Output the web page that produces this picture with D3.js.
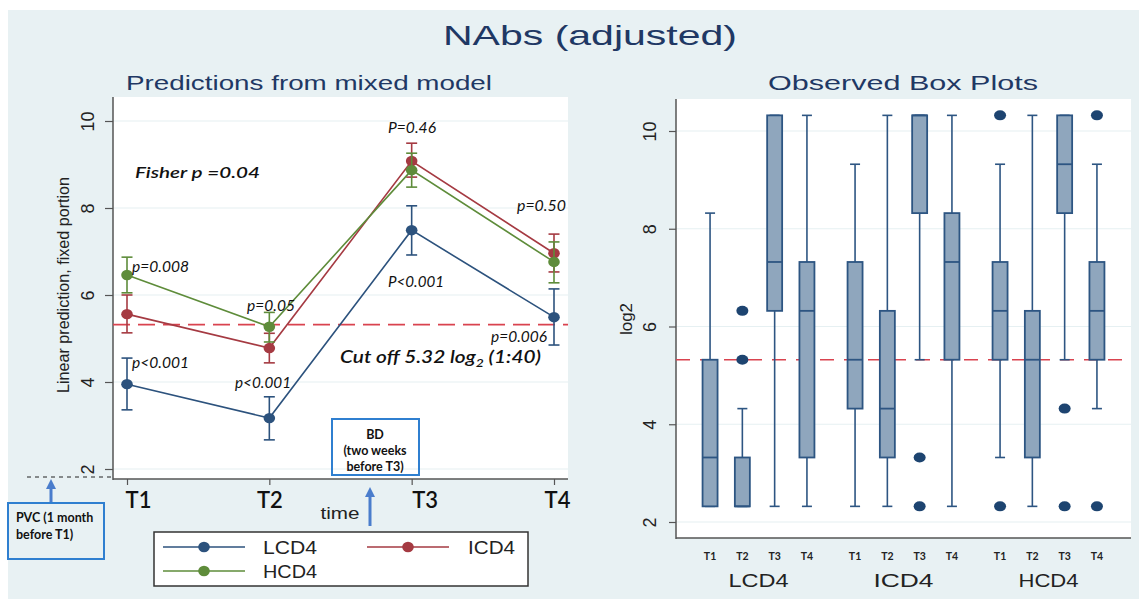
<!doctype html>
<html>
<head>
<script src="https://cdnjs.cloudflare.com/ajax/libs/d3/7.8.5/d3.min.js"></script>
<style>
  body { margin: 0; background: #fff; }
  svg { display: block; }
  .sans { font-family: "Liberation Sans", Arial, sans-serif; }
  .cal { font-family: Lato, "Open Sans", sans-serif; }
</style>
</head>
<body>
<svg id="chart" width="1139" height="599"></svg>
<script>
// ---- data ----
var times = ["T1", "T2", "T3", "T4"];
var groups = ["LCD4", "ICD4", "HCD4"];
var yTicks = [2, 4, 6, 8, 10];
var cutoff = 5.32;

// predictions from mixed model (mean, lower CI, upper CI)
var lcd4Mean = [3.95, 3.17, 7.49, 5.49];
var lcd4Lo = [3.36, 2.67, 6.92, 4.85];
var lcd4Hi = [4.55, 3.66, 8.05, 6.14];
var icd4Mean = [5.56, 4.78, 9.08, 6.96];
var icd4Lo = [5.13, 4.44, 8.71, 6.53];
var icd4Hi = [6.00, 5.12, 9.49, 7.40];
var hcd4Mean = [6.46, 5.27, 8.87, 6.76];
var hcd4Lo = [6.05, 4.92, 8.48, 6.28];
var hcd4Hi = [6.87, 5.60, 9.26, 7.22];

// observed boxes: [lower whisker, q1, median, q3, upper whisker]
var lcd4Box = [[2.32, 2.32, 3.32, 5.32, 8.32], [2.32, 2.32, 2.32, 3.32, 4.32], [2.32, 6.32, 7.32, 10.32, 10.32], [2.32, 3.32, 6.32, 7.32, 10.32]];
var icd4Box = [[2.32, 4.32, 5.32, 7.32, 9.32], [2.32, 3.32, 4.32, 6.32, 10.32], [5.32, 8.32, 10.32, 10.32, 10.32], [2.32, 5.32, 7.32, 8.32, 10.32]];
var hcd4Box = [[3.32, 5.32, 6.32, 7.32, 9.32], [2.32, 3.32, 5.32, 6.32, 10.32], [5.32, 8.32, 9.32, 10.32, 10.32], [4.32, 5.32, 6.32, 7.32, 9.32]];
var lcd4Out = [[], [5.32, 6.32], [], []];
var icd4Out = [[], [], [3.32, 2.32], []];
var hcd4Out = [[10.32, 2.32], [], [4.32, 2.32], [10.32, 2.32]];

var svg = d3.select("#chart");
var navy = "#1f3864";

// background
svg.append("rect").attr("x", 8).attr("y", 10).attr("width", 1131).attr("height", 589).attr("fill", "#e8f1f3");

svg.append("text").attr("class", "sans").attr("x", 590).attr("y", 45)
  .attr("text-anchor", "middle").attr("font-size", 28).attr("fill", navy)
  .attr("textLength", 294).attr("lengthAdjust", "spacingAndGlyphs")
  .text("NAbs (adjusted)");

// ================= left panel =================
var L = { left: 113, right: 568, top: 97, bottom: 479 };
var xL = d3.scalePoint().domain(times).range([127, 554]);
var yL = d3.scaleLinear().domain([2, 10]).range([469, 121]);

var gL = svg.append("g");
gL.append("rect").attr("x", L.left).attr("y", L.top).attr("width", L.right - L.left).attr("height", L.bottom - L.top).attr("fill", "#fff");
gL.selectAll(".grid").data(yTicks).enter().append("line")
  .attr("x1", L.left).attr("x2", L.right).attr("y1", d => yL(d)).attr("y2", d => yL(d))
  .attr("stroke", "#e6f0f2").attr("stroke-width", 1.2);

svg.append("text").attr("class", "sans").attr("x", 309).attr("y", 90)
  .attr("text-anchor", "middle").attr("font-size", 21).attr("fill", navy)
  .attr("textLength", 366).attr("lengthAdjust", "spacingAndGlyphs")
  .text("Predictions from mixed model");

// y axis
var axL = gL.append("g").attr("transform", "translate(" + L.left + ",0)")
  .call(d3.axisLeft(yL).tickValues(yTicks).tickSize(8).tickSizeOuter(0));
axL.select(".domain").remove();
axL.selectAll(".tick line").attr("stroke", "#555").attr("stroke-width", 1.2);
axL.selectAll(".tick text").attr("class", "sans").attr("font-size", 18).attr("fill", "#222")
  .attr("transform", "rotate(-90)").attr("x", 0).attr("y", -19).attr("dy", 0)
  .attr("text-anchor", "middle");
gL.append("line").attr("x1", L.left).attr("x2", L.left).attr("y1", L.top).attr("y2", L.bottom + 1)
  .attr("stroke", "#555").attr("stroke-width", 1.5);
gL.append("text").attr("class", "sans").attr("transform", "translate(69,285) rotate(-90)")
  .attr("text-anchor", "middle").attr("font-size", 17).attr("fill", "#222")
  .attr("textLength", 216).attr("lengthAdjust", "spacingAndGlyphs")
  .text("Linear prediction, fixed portion");

// x axis
var axB = gL.append("g").attr("transform", "translate(0," + L.bottom + ")")
  .call(d3.axisBottom(xL).tickSize(6).tickSizeOuter(0));
axB.select(".domain").remove();
axB.selectAll(".tick line").attr("stroke", "#555").attr("stroke-width", 1.2);
axB.selectAll(".tick text").attr("class", "cal").attr("font-size", 22).attr("font-weight", 600)
  .attr("fill", "#111").attr("y", 13).attr("dy", "0.71em")
  .attr("dx", (d, i) => [11, 0, 13, 3][i]);
gL.append("line").attr("x1", L.left).attr("x2", L.right).attr("y1", L.bottom).attr("y2", L.bottom)
  .attr("stroke", "#555").attr("stroke-width", 1.5);

// cut-off line
gL.append("line").attr("x1", L.left).attr("x2", L.right).attr("y1", yL(cutoff)).attr("y2", yL(cutoff))
  .attr("stroke", "#d9434f").attr("stroke-width", 1.6).attr("stroke-dasharray", "17,8");

var series = [
  { name: "LCD4", color: "#2c527d", mean: lcd4Mean, lo: lcd4Lo, hi: lcd4Hi },
  { name: "ICD4", color: "#a53a42", mean: icd4Mean, lo: icd4Lo, hi: icd4Hi },
  { name: "HCD4", color: "#5e8c3a", mean: hcd4Mean, lo: hcd4Lo, hi: hcd4Hi }
];

var line = d3.line().x((d, i) => xL(times[i])).y(d => yL(d));
series.forEach(function(s) {
  var g = gL.append("g");
  times.forEach(function(t, i) {
    var x = xL(t);
    g.append("line").attr("x1", x).attr("x2", x).attr("y1", yL(s.lo[i])).attr("y2", yL(s.hi[i]))
      .attr("stroke", s.color).attr("stroke-width", 1.6);
    [s.lo[i], s.hi[i]].forEach(function(v) {
      g.append("line").attr("x1", x - 5.5).attr("x2", x + 5.5).attr("y1", yL(v)).attr("y2", yL(v))
        .attr("stroke", s.color).attr("stroke-width", 1.6);
    });
  });
  g.append("path").attr("d", line(s.mean)).attr("fill", "none").attr("stroke", s.color).attr("stroke-width", 1.6);
  g.selectAll("ellipse").data(s.mean).enter().append("ellipse")
    .attr("cx", (d, i) => xL(times[i])).attr("cy", d => yL(d)).attr("rx", 5.8).attr("ry", 5.2)
    .attr("fill", s.color);
});

// annotations
var notes = [
  { t: "P=0.46", x: 388, y: 133, w: 48 },
  { t: "p=0.50", x: 517, y: 211, w: 49 },
  { t: "p=0.008", x: 132, y: 272, w: 57 },
  { t: "p=0.05", x: 247, y: 311, w: 48 },
  { t: "P<0.001", x: 388, y: 287, w: 56 },
  { t: "p=0.006", x: 491, y: 342, w: 56 },
  { t: "p<0.001", x: 132, y: 368, w: 57 },
  { t: "p<0.001", x: 235, y: 388, w: 56 }
];
gL.selectAll(".note").data(notes).enter().append("text").attr("class", "cal")
  .attr("x", d => d.x).attr("y", d => d.y).attr("font-size", 15).attr("font-style", "italic")
  .attr("fill", "#111").attr("textLength", d => d.w).attr("lengthAdjust", "spacingAndGlyphs")
  .text(d => d.t);
gL.append("text").attr("class", "cal").attr("x", 135).attr("y", 178).attr("font-size", 16)
  .attr("font-style", "italic").attr("font-weight", 600).attr("fill", "#111")
  .attr("textLength", 125).attr("lengthAdjust", "spacingAndGlyphs").text("Fisher p =0.04");
var cut = gL.append("text").attr("class", "cal").attr("x", 340).attr("y", 363).attr("font-size", 18)
  .attr("font-style", "italic").attr("font-weight", 600).attr("fill", "#111")
  .attr("textLength", 201).attr("lengthAdjust", "spacingAndGlyphs");
cut.append("tspan").text("Cut off 5.32 log");
cut.append("tspan").attr("font-size", 12).attr("dy", 4).text("2");
cut.append("tspan").attr("dy", -4).text(" (1:40)");

// PVC marker
gL.append("line").attr("x1", 27).attr("x2", L.left).attr("y1", 477).attr("y2", 477)
  .attr("stroke", "#222").attr("stroke-width", 1).attr("stroke-dasharray", "4,4");
function arrow(x, yTip, yEnd) {
  svg.append("line").attr("x1", x).attr("x2", x).attr("y1", yTip + 8).attr("y2", yEnd)
    .attr("stroke", "#4a7dcc").attr("stroke-width", 3);
  svg.append("path").attr("d", "M" + (x - 5) + "," + (yTip + 10) + "L" + x + "," + yTip + "L" + (x + 5) + "," + (yTip + 10) + "Z")
    .attr("fill", "#4a7dcc");
}
arrow(51, 479, 503);
arrow(370, 487, 526);
function noteBox(x, y, w, h, lines, anchor, tx) {
  svg.append("rect").attr("x", x).attr("y", y).attr("width", w).attr("height", h)
    .attr("fill", "none").attr("stroke", "#2f7fd0").attr("stroke-width", 2);
  lines.forEach(function(l, i) {
    svg.append("text").attr("class", "cal").attr("x", tx).attr("y", l[1])
      .attr("text-anchor", anchor).attr("font-size", 12.5).attr("font-weight", 700).attr("fill", "#111")
      .text(l[0]);
  });
}
noteBox(8, 503, 96, 56, [["PVC (1 month", 522], ["before T1)", 539]], "start", 16);
noteBox(332, 419, 87, 56, [["BD", 439], ["(two weeks", 455], ["before T3)", 471]], "middle", 375);

svg.append("text").attr("class", "sans").attr("x", 340).attr("y", 519).attr("text-anchor", "middle")
  .attr("font-size", 16).attr("fill", "#222").attr("textLength", 39).attr("lengthAdjust", "spacingAndGlyphs")
  .text("time");

// legend
var leg = svg.append("g");
leg.append("rect").attr("x", 154).attr("y", 532).attr("width", 374).attr("height", 54)
  .attr("fill", "#fff").attr("stroke", "#333").attr("stroke-width", 1.5);
var legPos = [{ x: 163, y: 547 }, { x: 367, y: 547 }, { x: 163, y: 571 }];
series.forEach(function(s, i) {
  var p = legPos[i];
  leg.append("line").attr("x1", p.x).attr("x2", p.x + 82).attr("y1", p.y).attr("y2", p.y)
    .attr("stroke", s.color).attr("stroke-width", 1.6);
  leg.append("ellipse").attr("cx", p.x + 41).attr("cy", p.y).attr("rx", 5.8).attr("ry", 5.2).attr("fill", s.color);
  leg.append("text").attr("class", "sans").attr("x", p.x + (i == 1 ? 101 : 100)).attr("y", p.y + 6.5)
    .attr("font-size", 18).attr("fill", "#222")
    .attr("textLength", i == 1 ? 47 : 54).attr("lengthAdjust", "spacingAndGlyphs").text(s.name);
});

// ================= right panel =================
var R = { left: 676, right: 1131, top: 99, bottom: 538 };
var yR = d3.scaleLinear().domain([2, 10]).range([522, 131]);
var xG = d3.scaleBand().domain(groups).range([686, 1121]);
var xT = d3.scalePoint().domain(times).range([0, xG.bandwidth()]).padding(0.745);

var gR = svg.append("g");
gR.append("rect").attr("x", R.left).attr("y", R.top).attr("width", R.right - R.left).attr("height", R.bottom - R.top).attr("fill", "#fff");
gR.selectAll(".grid").data(yTicks).enter().append("line")
  .attr("x1", R.left).attr("x2", R.right).attr("y1", d => yR(d)).attr("y2", d => yR(d))
  .attr("stroke", "#e6f0f2").attr("stroke-width", 1.2);

svg.append("text").attr("class", "sans").attr("x", 903).attr("y", 90)
  .attr("text-anchor", "middle").attr("font-size", 21).attr("fill", navy)
  .attr("textLength", 270).attr("lengthAdjust", "spacingAndGlyphs")
  .text("Observed Box Plots");

var axR = gR.append("g").attr("transform", "translate(" + R.left + ",0)")
  .call(d3.axisLeft(yR).tickValues(yTicks).tickSize(7).tickSizeOuter(0));
axR.select(".domain").remove();
axR.selectAll(".tick line").attr("stroke", "#555").attr("stroke-width", 1.2);
axR.selectAll(".tick text").attr("class", "sans").attr("font-size", 18).attr("fill", "#222")
  .attr("transform", "rotate(-90)").attr("x", 0).attr("y", -20).attr("dy", 0)
  .attr("text-anchor", "middle");
gR.append("line").attr("x1", R.left).attr("x2", R.left).attr("y1", R.top).attr("y2", R.bottom + 1)
  .attr("stroke", "#555").attr("stroke-width", 1.5);
gR.append("line").attr("x1", R.left).attr("x2", R.right).attr("y1", R.bottom).attr("y2", R.bottom)
  .attr("stroke", "#555").attr("stroke-width", 1.5);
gR.append("text").attr("class", "sans").attr("transform", "translate(632,319) rotate(-90)")
  .attr("text-anchor", "middle").attr("font-size", 17).attr("fill", "#222").text("log2");

gR.append("line").attr("x1", R.left).attr("x2", R.right).attr("y1", yR(cutoff)).attr("y2", yR(cutoff))
  .attr("stroke", "#d9434f").attr("stroke-width", 1.6).attr("stroke-dasharray", "14,10");

var boxSets = [
  { g: "LCD4", box: lcd4Box, out: lcd4Out },
  { g: "ICD4", box: icd4Box, out: icd4Out },
  { g: "HCD4", box: hcd4Box, out: hcd4Out }
];
var boxStroke = "#2d5582";
boxSets.forEach(function(b) {
  times.forEach(function(t, i) {
    var cx = xG(b.g) + xT(t);
    var v = b.box[i];
    var bg = gR.append("g");
    // whiskers
    bg.append("line").attr("x1", cx).attr("x2", cx).attr("y1", yR(v[0])).attr("y2", yR(v[1]))
      .attr("stroke", boxStroke).attr("stroke-width", 1.6);
    bg.append("line").attr("x1", cx).attr("x2", cx).attr("y1", yR(v[3])).attr("y2", yR(v[4]))
      .attr("stroke", boxStroke).attr("stroke-width", 1.6);
    [v[0], v[4]].forEach(function(w) {
      bg.append("line").attr("x1", cx - 5).attr("x2", cx + 5).attr("y1", yR(w)).attr("y2", yR(w))
        .attr("stroke", boxStroke).attr("stroke-width", 1.6);
    });
    bg.append("rect").attr("x", cx - 7.5).attr("width", 15)
      .attr("y", yR(v[3])).attr("height", Math.max(yR(v[1]) - yR(v[3]), 1))
      .attr("fill", "#8fa6bd").attr("stroke", boxStroke).attr("stroke-width", 1.8);
    bg.append("line").attr("x1", cx - 7.5).attr("x2", cx + 7.5).attr("y1", yR(v[2])).attr("y2", yR(v[2]))
      .attr("stroke", boxStroke).attr("stroke-width", 1.8);
    bg.selectAll("ellipse").data(b.out[i]).enter().append("ellipse")
      .attr("cx", cx).attr("cy", d => yR(d)).attr("rx", 6).attr("ry", 5).attr("fill", "#1d4470");
    svg.append("text").attr("class", "cal").attr("x", cx).attr("y", 560).attr("text-anchor", "middle")
      .attr("font-size", 10.5).attr("font-weight", 700).attr("fill", "#222").text(t);
  });
  svg.append("text").attr("class", "sans").attr("x", xG(b.g) + xG.bandwidth() / 2).attr("y", 587)
    .attr("text-anchor", "middle").attr("font-size", 18).attr("fill", "#222")
    .attr("textLength", 60).attr("lengthAdjust", "spacingAndGlyphs").text(b.g);
});
</script>
</body>
</html>
